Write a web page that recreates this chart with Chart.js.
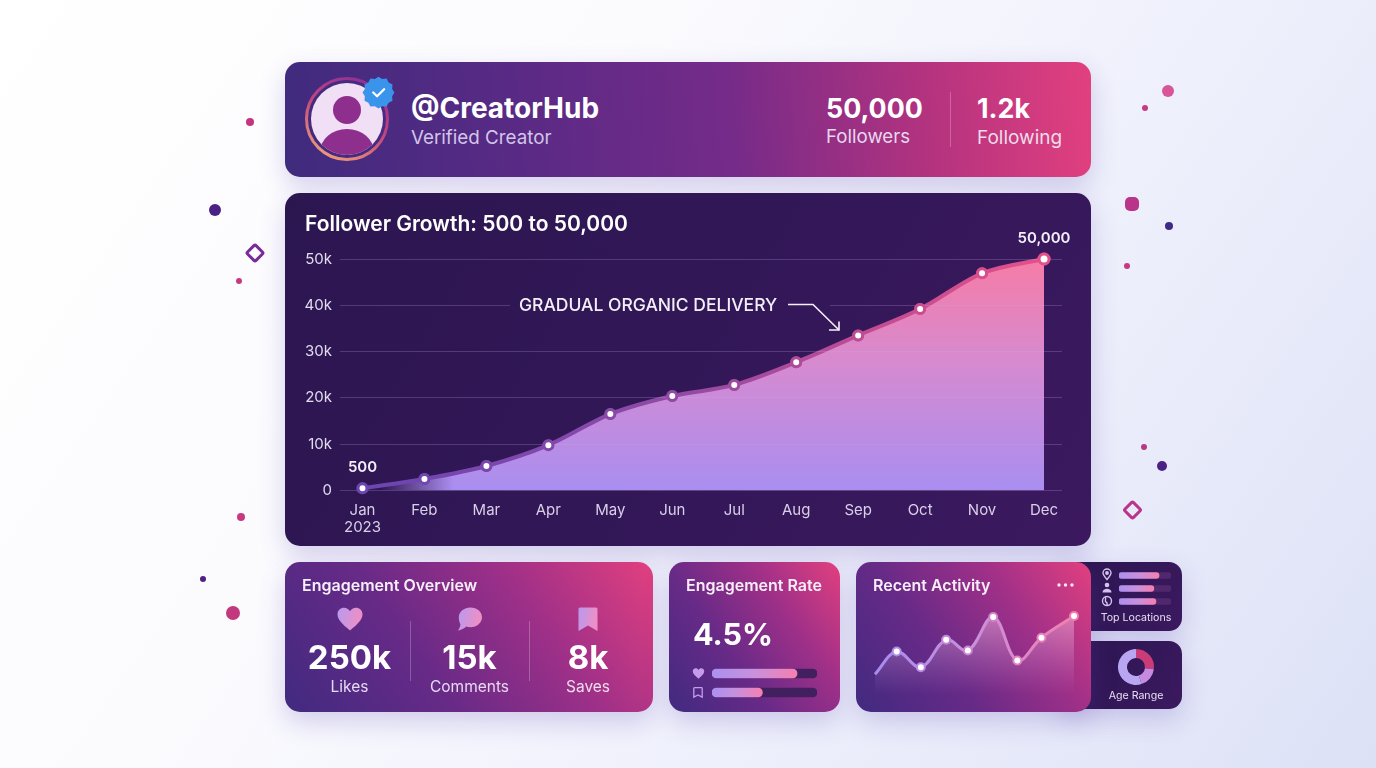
<!DOCTYPE html>
<html lang="en">
<head>
<meta charset="utf-8">
<title>Creator dashboard</title>
<script src="https://cdn.jsdelivr.net/npm/chart.js@4"></script>
<style>
html,body{margin:0;padding:0;width:1376px;height:768px;overflow:hidden}
body{position:relative;font-family:Inter,"Noto Sans",sans-serif;background:linear-gradient(125deg,#fff 0%,#fbfbfe 35%,#eceefb 70%,#dde1f6 100%)}
.card{position:absolute;border-radius:15px;box-shadow:0 10px 26px rgba(95,70,180,.24)}
.grad{background:linear-gradient(55deg,#412a80 0%,#672a87 36%,#a03088 68%,#e2407f 100%)}
.dark{background:linear-gradient(120deg,#2c1650 0%,#321757 50%,#3c195f 100%)}
.t{position:absolute;white-space:nowrap;line-height:1;transform:translateY(-50%);color:#fff}
.c{transform:translate(-50%,-50%)}
canvas{position:absolute;display:block}
svg{position:absolute;overflow:visible}
.dot{position:absolute;border-radius:50%;transform:translate(-50%,-50%)}
.rule{position:absolute;width:1px;background:rgba(255,255,255,.24)}
</style>
</head>
<body>
<div class="dot" style="left:250px;top:122px;width:8px;height:8px;background:#c5357f"></div>
<div class="dot" style="left:215px;top:209.5px;width:12px;height:12px;background:#4b2186"></div>
<div class="dot" style="left:239px;top:281px;width:6px;height:6px;background:#c83a80"></div>
<div class="dot" style="left:241px;top:517px;width:8px;height:8px;background:#c83a80"></div>
<div class="dot" style="left:203px;top:579px;width:6px;height:6px;background:#4b2186"></div>
<div class="dot" style="left:232.5px;top:613px;width:14px;height:14px;background:#c2387f"></div>
<div class="dot" style="left:1168px;top:90.5px;width:12px;height:12px;background:#d9559a"></div>
<div class="dot" style="left:1145px;top:108px;width:6px;height:6px;background:#c83a80"></div>
<div class="dot" style="left:1132px;top:204px;width:14px;height:14px;background:#b9358a;border-radius:5px"></div>
<div class="dot" style="left:1169px;top:226px;width:8px;height:8px;background:#3f2a85"></div>
<div class="dot" style="left:1126.5px;top:265.5px;width:6px;height:6px;background:#c23a80"></div>
<div class="dot" style="left:1144px;top:447px;width:6px;height:6px;background:#b63a80"></div>
<div class="dot" style="left:1161.5px;top:466px;width:10px;height:10px;background:#4b2186"></div>
<svg style="left:0;top:0" width="1376" height="768" fill="none">
  <rect x="249" y="247" width="12" height="12" rx="1.5" transform="rotate(45 255 253)" stroke="#7a2c96" stroke-width="3"/>
  <rect x="1126.5" y="504" width="12" height="12" rx="1.5" transform="rotate(45 1132.5 510)" stroke="#b9358a" stroke-width="3"/>
</svg>

<!-- profile header -->
<div class="card" style="left:285px;top:62px;width:806px;height:115px;background:linear-gradient(85deg,#3f2b7d 0%,#5a2a85 30%,#752b89 55%,#b5337f 80%,#e2407f 100%)"></div>
<svg style="left:300px;top:70px" width="100" height="100" viewBox="300 70 100 100">
  <defs>
    <linearGradient id="ring" x1="0.8" y1="0" x2="0.3" y2="1"><stop offset="0" stop-color="#8a2f9a"/><stop offset=".5" stop-color="#c2457f"/><stop offset="1" stop-color="#ec9a78"/></linearGradient>
    <clipPath id="av"><circle cx="347" cy="119" r="36"/></clipPath>
  </defs>
  <circle cx="347" cy="119" r="40.5" fill="none" stroke="url(#ring)" stroke-width="3"/>
  <circle cx="347" cy="119" r="36" fill="#f0dff5"/>
  <g clip-path="url(#av)" fill="#8e2f8e">
    <circle cx="347" cy="110" r="14"/>
    <ellipse cx="347" cy="152" rx="27" ry="23"/>
  </g>
  <g transform="translate(378.5 92.5) scale(.88) translate(-378 -96)">
  <path d="M378 78l4.2 2.6 5-.4 2.3 4.4 4.4 2.3-.4 5 2.6 4.2-2.6 4.2.4 5-4.4 2.3-2.3 4.4-5-.4-4.2 2.6-4.2-2.6-5 .4-2.3-4.4-4.4-2.3.4-5-2.6-4.2 2.6-4.2-.4-5 4.4-2.3 2.3-4.4 5 .4z" fill="#3b94ec"/>
  <path d="M372 96l4.4 4.3 8-8" fill="none" stroke="#fff" stroke-width="2.6" stroke-linecap="round" stroke-linejoin="round"/>
  </g>
</svg>
<div class="t" style="left:411px;top:107.5px;font-size:28px;font-weight:700">@CreatorHub</div>
<div class="t" style="left:411px;top:137.5px;font-size:18.8px;color:#d3c5ea">Verified Creator</div>
<div class="t" style="left:826px;top:108px;font-size:26.8px;font-weight:700">50,000</div>
<div class="t" style="left:826px;top:136.5px;font-size:18.7px;color:#e6d8ef">Followers</div>
<div class="rule" style="left:950px;top:92px;height:55px"></div>
<div class="t" style="left:977px;top:108px;font-size:26.8px;font-weight:700">1.2k</div>
<div class="t" style="left:977px;top:136.5px;font-size:19px;color:#f0dcea">Following</div>

<!-- main chart -->
<div class="card dark" style="left:285px;top:193px;width:806px;height:353px"></div>
<canvas id="growth" width="806" height="353" style="left:285px;top:193px"></canvas>
<div class="t" style="left:305px;top:223px;font-size:21px;font-weight:600">Follower Growth: 500 to 50,000</div>
<div class="t" style="left:519px;top:305px;font-size:17.5px;font-weight:500;color:#f3eef8">GRADUAL ORGANIC DELIVERY</div>
<svg style="left:0;top:0" width="1376" height="768" fill="none" stroke="#f5f0fa" stroke-width="1.6">
  <path d="M788 304.5h25l26 25.5"/><path d="M829 330h10v-8.5"/>
</svg>

<!-- side cards -->
<div class="card dark" style="left:1060px;top:562px;width:122px;height:69px;border-radius:13px"></div>
<div class="card dark" style="left:1060px;top:641px;width:122px;height:68px;border-radius:13px"></div>
<svg style="left:1098px;top:566px" width="18" height="42" viewBox="1098 566 18 42" fill="none" stroke="#d5c6ee" stroke-width="1.4">
  <path d="M1107 579.5c-3-3.4-4-5-4-6.5a4 4 0 0 1 8 0c0 1.500-1 3.100-4 6.500z"/><circle cx="1107" cy="573" r="1.200" fill="#d5c6ee"/>
  <circle cx="1107" cy="585" r="2.300" fill="#d5c6ee" stroke="none"/><path d="M1102.500 592.500c0-5 9-5 9 0z" fill="#d5c6ee" stroke="none"/>
  <circle cx="1107" cy="601" r="4.500"/><path d="M1105 597c2 2-1 4 1 5s1 2 1 3.500" />
</svg>
<canvas id="locations" width="52" height="39" style="left:1119px;top:568.500px"></canvas>
<div class="t c" style="left:1136px;top:617.5px;font-size:10.6px;color:#e8dff3">Top Locations</div>
<canvas id="ages" width="44" height="44" style="left:1114px;top:645px"></canvas>
<div class="t c" style="left:1136px;top:696px;font-size:10.6px;color:#e8dff3">Age Range</div>

<!-- engagement overview -->
<div class="card grad" style="left:285px;top:562px;width:368px;height:150px"></div>
<svg width="0" height="0" style="left:0;top:0"><defs>
  <linearGradient id="ico" x1="0" y1="0" x2="1" y2="0.2"><stop offset="0" stop-color="#b79af0"/><stop offset="1" stop-color="#ee8fc4"/></linearGradient>
</defs></svg>
<svg style="left:337px;top:607px" width="26" height="24" viewBox="0 0 26 24"><path fill="url(#ico)" d="M13 23.500C5 17 .5 12.500.5 7.300.5 3.200 3.600.7 7 .7c2.500 0 4.700 1.300 6 3.600C14.300 2 16.500.7 19 .7c3.400 0 6.500 2.500 6.500 6.600 0 5.200-4.500 9.700-12.500 16.200z"/></svg>
<svg style="left:457px;top:607px" width="26" height="24" viewBox="0 0 26 24"><path fill="url(#ico)" d="M13.500.5C20 .5 25 4.800 25 10.300S20 20.200 13.500 20.200c-1.600 0-3-.3-4.300-.7C7 21.500 4.500 23 .8 23.500c1.500-1.600 2.400-3.400 2.600-6.200C2.400 15.600 1.800 13 1.800 10.300 1.800 4.800 7 .5 13.500.5z"/></svg>
<svg style="left:578px;top:607px" width="20" height="24" viewBox="0 0 20 24"><path fill="url(#ico)" d="M2 .5h16a1.500 1.500 0 0 1 1.500 1.500v22L10 18.500.5 24V2A1.500 1.500 0 0 1 2 .5z"/></svg>
<div class="t" style="left:302px;top:585px;font-size:16px;font-weight:600;color:#f6eff9">Engagement Overview</div>
<div class="t c" style="left:349.500px;top:657px;font-size:33px;font-weight:700">250k</div>
<div class="t c" style="left:469.500px;top:657px;font-size:33px;font-weight:700">15k</div>
<div class="t c" style="left:588px;top:657px;font-size:33px;font-weight:700">8k</div>
<div class="t c" style="left:349.500px;top:686.500px;font-size:15.5px;color:#e6daf2">Likes</div>
<div class="t c" style="left:469.500px;top:686.500px;font-size:15.5px;color:#e6daf2">Comments</div>
<div class="t c" style="left:588px;top:686.500px;font-size:15.5px;color:#f0dcec">Saves</div>
<div class="rule" style="left:409.500px;top:621px;height:60px"></div>
<div class="rule" style="left:529px;top:621px;height:60px"></div>

<!-- engagement rate -->
<div class="card grad" style="left:669px;top:562px;width:171px;height:150px"></div>
<div class="t" style="left:686px;top:585px;font-size:16px;font-weight:600;color:#f8eef8">Engagement Rate</div>
<div class="t" style="left:693px;top:633.500px;font-size:30.5px;font-weight:700">4.5%</div>
<svg style="left:692px;top:668px" width="13" height="11" viewBox="0 0 26 24"><path fill="#c79bec" d="M13 23.500C5 17 .5 12.500.5 7.300.5 3.200 3.600.7 7 .7c2.500 0 4.700 1.300 6 3.600C14.300 2 16.500.7 19 .7c3.400 0 6.500 2.500 6.500 6.600 0 5.200-4.500 9.700-12.500 16.200z"/></svg>
<svg style="left:693px;top:687px" width="10" height="11" viewBox="0 0 10 11"><path fill="none" stroke="#c79bec" stroke-width="1.300" d="M1.500.7h7a.7.7 0 0 1 .7.700v8.800L5 8 .8 10.200V1.400a.7.7 0 0 1 .7-.7z"/></svg>
<canvas id="rates" width="105" height="38" style="left:712px;top:663.500px"></canvas>

<!-- recent activity -->
<div class="card grad" style="left:856px;top:562px;width:235px;height:150px"></div>
<div class="t" style="left:873px;top:585px;font-size:16px;font-weight:600;color:#f8eef8">Recent Activity</div>
<svg style="left:1056px;top:582px" width="20" height="6" fill="#f3e6f3"><circle cx="3" cy="3" r="1.700"/><circle cx="9.500" cy="3" r="1.700"/><circle cx="16" cy="3" r="1.700"/></svg>
<canvas id="activity" width="220" height="95" style="left:865px;top:605px"></canvas>

<script>
const months = ['Jan','Feb','Mar','Apr','May','Jun','Jul','Aug','Sep','Oct','Nov','Dec'];
const monthLabels = [['Jan','2023'],'Feb','Mar','Apr','May','Jun','Jul','Aug','Sep','Oct','Nov','Dec'];
const followers = [500,2500,5300,9800,16500,20400,22800,27700,33500,39200,46900,50000];
const yTickValues = [0,10000,20000,30000,40000,50000];
const yTickLabels = ['0','10k','20k','30k','40k','50k'];
const pointCallouts = [[0,'500'],[11,'50,000']];
const activityDays = [0,0.9,1.9,2.95,3.85,4.9,5.9,6.9,8.25];
const activityValues = [20,43,27,55,44,78,34,57,79];
const activityMarkers = [0,4,4,4,4,4,4,4,4];
const rateLabels = ['Likes','Saves'];
const rateValues = [81,48];
const locationLabels = ['Location','Audience','Global'];
const locationValues = [77,67,71];
const ageLabels = ['18-24','25-34','35+'];
const ageValues = [27,18,55];

Chart.defaults.font.family = 'Inter, "Noto Sans", sans-serif';
Chart.defaults.animation = false;
const base = {responsive:false,devicePixelRatio:1,plugins:{legend:{display:false},tooltip:{enabled:false}}};

function lineGradient(chart){
  const g = chart.ctx.createLinearGradient(77,0,759,0);
  g.addColorStop(0,'#6b45b2'); g.addColorStop(.45,'#8f4aa6'); g.addColorStop(.75,'#c04c92'); g.addColorStop(1,'#e4508a');
  return g;
}
function fillPattern(chart){
  const off = document.createElement('canvas');
  off.width = chart.width; off.height = chart.height;
  const c = off.getContext('2d');
  const v = c.createLinearGradient(0,66,0,297);
  v.addColorStop(0,'#f67ca6'); v.addColorStop(.45,'#d68ad0'); v.addColorStop(1,'#a98ef0');
  c.fillStyle = v; c.fillRect(0,0,off.width,off.height);
  c.globalCompositeOperation = 'destination-in';
  const h = c.createLinearGradient(95,0,168,0);
  h.addColorStop(0,'rgba(0,0,0,0)'); h.addColorStop(1,'rgba(0,0,0,1)');
  c.fillStyle = h; c.fillRect(0,0,off.width,off.height);
  return chart.ctx.createPattern(off,'no-repeat');
}
const growthExtras = {
  id:'growthExtras',
  afterDraw(chart){
    const {ctx,scales:{x,y}} = chart;
    const gy = y.getPixelForValue(yTickValues[4]);
    ctx.clearRect(225,gy-2,320,4);
    chart.getDatasetMeta(0).data.forEach(p=>p.draw(ctx));
    ctx.save();
    ctx.fillStyle='#f3eef8'; ctx.textAlign='center'; ctx.textBaseline='middle';
    ctx.font='600 15px Inter';
    pointCallouts.forEach(([i,text])=>ctx.fillText(text,x.getPixelForValue(i),y.getPixelForValue(followers[i])-21));
    ctx.restore();
  }
};
new Chart(document.getElementById('growth'),{
  type:'line',
  data:{labels:months,datasets:[{
    data:followers.map((v,i)=>({x:i,y:v})),
    cubicInterpolationMode:'monotone',
    borderWidth:4,
    borderColor:c=>lineGradient(c.chart),
    fill:'origin',
    backgroundColor:c=>fillPattern(c.chart),
    pointRadius:followers.map((v,i)=>i===11?5:4.5),
    pointBorderWidth:3,
    pointBackgroundColor:'#fff',
    pointBorderColor:c=>lineGradient(c.chart),
    clip:false
  }]},
  options:{...base,
    layout:{padding:{left:0,right:29,top:66,bottom:0}},
    scales:{
      x:{type:'linear',min:-0.363,max:11.29,
        afterBuildTicks(s){s.ticks=months.map((m,i)=>({value:i}));},
        afterFit(s){s.height=55.5;},
        grid:{display:false},border:{display:false},
        ticks:{autoSkip:false,maxRotation:0,padding:4,color:'#d9d0e8',font:{size:15,lineHeight:1.13},callback:v=>monthLabels[v]}},
      y:{min:0,max:50000,
        afterBuildTicks(s){s.ticks=yTickValues.map(v=>({value:v}));},
        afterFit(s){s.width=55;},
        grid:{color:'rgba(200,170,240,.24)',lineWidth:1,drawTicks:false,z:1},border:{display:false},
        ticks:{padding:8,color:'#e2dbee',font:{size:15},callback:v=>yTickLabels[yTickValues.indexOf(v)]}}
    }
  },
  plugins:[growthExtras]
});

function miniBars(id,labels,values,track,thick){
  new Chart(document.getElementById(id),{
    type:'bar',
    data:{labels,datasets:[
      {data:values,order:0,grouped:false,barThickness:thick,borderRadius:5,borderSkipped:false,
       backgroundColor:c=>{
         const end=c.chart.width*values[c.dataIndex]/100;
         const g=c.chart.ctx.createLinearGradient(0,0,end,0);
         g.addColorStop(0,'#ab90f0'); g.addColorStop(.5,'#c990dc'); g.addColorStop(1,'#f57fb0'); return g;}},
      {data:labels.map(()=>100),order:1,grouped:false,barThickness:thick,borderRadius:5,borderSkipped:false,backgroundColor:track}
    ]},
    options:{...base,indexAxis:'y',layout:{padding:0},scales:{
      x:{display:false,min:0,max:100},y:{display:false}}}
  });
}
miniBars('rates',rateLabels,rateValues,'#42205f',9);
miniBars('locations',locationLabels,locationValues,'#51286e',6);

new Chart(document.getElementById('ages'),{
  type:'doughnut',
  data:{labels:ageLabels,datasets:[{data:ageValues,backgroundColor:['#c93c78','#c78ae2','#b9a6f2'],borderWidth:0}]},
  options:{...base,cutout:'50%',radius:18,layout:{padding:0}}
});

new Chart(document.getElementById('activity'),{
  type:'line',
  data:{datasets:[{
    data:activityDays.map((d,i)=>({x:d,y:activityValues[i]})),
    tension:.38,borderWidth:3,
    borderColor:c=>{const g=c.chart.ctx.createLinearGradient(10,0,209,0);
      g.addColorStop(0,'#a78bf0');g.addColorStop(.5,'#c990dc');g.addColorStop(1,'#f07fb0');return g;},
    fill:'origin',
    backgroundColor:c=>{const g=c.chart.ctx.createLinearGradient(0,10,0,90);
      g.addColorStop(0,'rgba(245,190,225,.5)');g.addColorStop(.55,'rgba(220,170,225,.22)');g.addColorStop(1,'rgba(200,150,220,0)');return g;},
    pointRadius:activityMarkers,pointBorderWidth:2,
    pointBackgroundColor:'#fff',
    pointBorderColor:c=>{const g=c.chart.ctx.createLinearGradient(10,0,209,0);
      g.addColorStop(0,'#a78bf0');g.addColorStop(1,'#f07fb0');return g;},
    clip:false
  }]},
  options:{...base,layout:{padding:{left:10,right:11,top:10,bottom:5}},scales:{
    x:{type:'linear',display:false,min:0,max:8.25},
    y:{display:false,min:0,max:80}}}
});
</script>
</body>
</html>
